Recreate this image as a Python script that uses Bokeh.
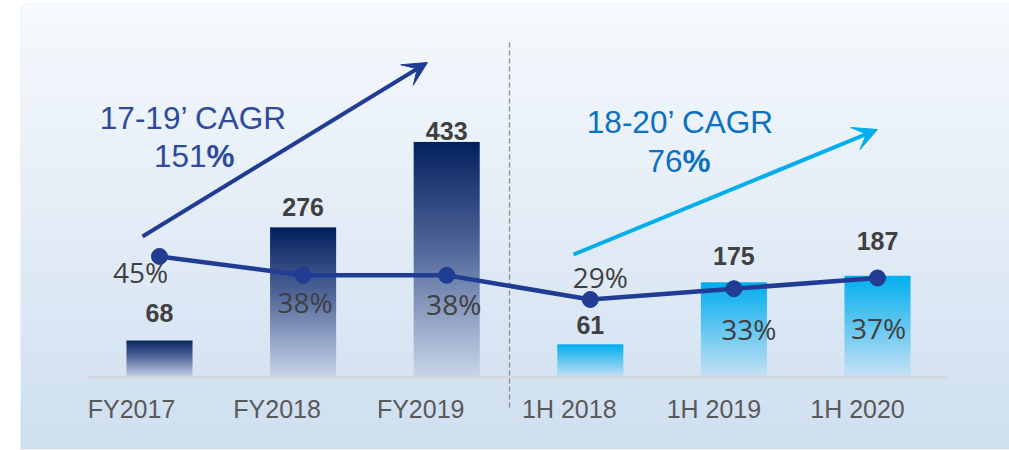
import numpy as np
from bokeh.plotting import figure
from bokeh.models import Range1d, Arrow, VeeHead
from bokeh.core.properties import value
from bokeh.embed import file_html
from bokeh.resources import INLINE

# ---------------- data ----------------
categories = ["FY2017", "FY2018", "FY2019", "1H 2018", "1H 2019", "1H 2020"]
revenue = [68, 276, 433, 61, 175, 187]
margin_pct = [45, 38, 38, 29, 33, 37]
revenue_labels = ["68", "276", "433", "61", "175", "187"]
margin_labels = ["45%", "38%", "38%", "29%", "33%", "37%"]
period_group = ["FY", "FY", "FY", "1H", "1H", "1H"]
cagr_fy_title = "17-19\u2019 CAGR"
cagr_fy_num = "151"
cagr_1h_title = "18-20\u2019 CAGR"
cagr_1h_num = "76"

# ---------------- layout (pixel geometry of the page) ----------------
X0, XS = 159.0, 143.6            # first category centre (px), px per category
YB, YS, PS = 377.0, 0.544, 2.69  # baseline (px), px per unit, px per percent
F_L, F_R, F_T, F_B = 20, 1009, 3, 449  # frame edges on page

def to_x(px):
    return (px - X0) / XS

def to_y(py):
    return (YB - py) / YS

xs = list(range(len(categories)))

p = figure(width=1009, height=450,
           x_range=Range1d(to_x(F_L), to_x(F_R)),
           y_range=Range1d(to_y(F_B), to_y(F_T)),
           x_axis_type=None, y_axis_type=None,
           output_backend="svg", toolbar_location=None,
           min_border_left=F_L, min_border_right=0,
           min_border_top=F_T, min_border_bottom=450 - F_B)
p.extra_y_ranges = {"pct": Range1d(-(F_B - YB) / PS, (YB - F_T) / PS)}
p.outline_line_color = None
p.border_fill_color = "white"
p.background_fill_color = "#E3ECF6"


def hex2rgb(h):
    h = h.lstrip("#")
    return np.array([int(h[i:i + 2], 16) for i in (0, 2, 4)], dtype=float)


def gradient_image(stops, n=256):
    """vertical gradient image, row 0 = bottom. stops: list of (t, hex)."""
    ts = np.array([s[0] for s in stops])
    cols = np.array([hex2rgb(s[1]) for s in stops])
    t = np.linspace(0, 1, n)
    rgb = np.stack([np.interp(t, ts, cols[:, c]) for c in range(3)], axis=1)
    img = np.empty((n, 1), dtype=np.uint32)
    view = img.view(dtype=np.uint8).reshape((n, 1, 4))
    view[:, 0, 0] = rgb[:, 0].round()
    view[:, 0, 1] = rgb[:, 1].round()
    view[:, 0, 2] = rgb[:, 2].round()
    view[:, 0, 3] = 255
    return img


# ---------------- background gradient ----------------
bg = gradient_image([(0, "#CEDFF0"), (0.5, "#E3ECF6"), (1, "#F6F9FD")])
yb0, yb1 = to_y(F_B), to_y(F_T)
xb0, xb1 = to_x(F_L), to_x(F_R)
p.image_rgba(image=[bg], x=xb0, y=yb0, dw=xb1 - xb0, dh=yb1 - yb0)

# ---------------- gradient bars ----------------
BAR_W = 0.46
grad = {"FY": [(0, "#C9D6E9"), (0.55, "#51679A"), (1, "#03205E")],
        "1H": [(0, "#C8E1F4"), (1, "#00ADEE")]}
imgs = [gradient_image(grad[g]) for g in period_group]
p.image_rgba(image=imgs, x=[x - BAR_W / 2 for x in xs], y=[0] * len(xs),
             dw=[BAR_W] * len(xs), dh=revenue)

# baseline
p.segment(x0=[-0.5], y0=[0], x1=[len(categories) - 0.5], y1=[0],
          line_color="#D6D9DE", line_width=2.5)

# separator
p.segment(x0=[to_x(509)], y0=[to_y(42)], x1=[to_x(509)], y1=[to_y(410)],
          line_color="#8A8A8A", line_width=1.3, line_dash="5 3")

# ---------------- margin line ----------------
p.line(xs, margin_pct, y_range_name="pct", line_color="#213C93", line_width=4.5)
p.scatter(xs, margin_pct, y_range_name="pct", size=16,
          fill_color="#213C93", line_color="#213C93")

# ---------------- labels ----------------
val_dy = [-28, -20, -11, -19, -26, -35]
p.text(x=xs, y=revenue, text=revenue_labels, x_offset=0, y_offset=val_dy,
       text_align="center", text_baseline="middle",
       text_font=value("Liberation Sans"), text_font_style="bold",
       text_font_size="25px", text_color="#404040")

pct_dx = [-19, 2, 7, 10, 15, 1]
pct_dy = [16, 27, 29, -22, 40, 50]
p.text(x=xs, y=margin_pct, text=margin_labels, y_range_name="pct",
       x_offset=pct_dx, y_offset=pct_dy,
       text_align="center", text_baseline="middle",
       text_font=value("Open Sans"), text_font_size="28px", text_color="#404040")

tick_dx = [-28, -26, -26, -21, -20, -20]
p.text(x=xs, y=[0] * len(xs), text=categories, x_offset=tick_dx, y_offset=31,
       text_align="center", text_baseline="middle",
       text_font=value("Liberation Sans"), text_font_size="25px", text_color="#595959")

# ---------------- CAGR arrows and texts ----------------
FY_BLUE = "#213C93"
CY_BLUE = "#00AEEF"
p.add_layout(Arrow(x_start=to_x(142), y_start=to_y(236), x_end=to_x(427), y_end=to_y(62),
                   line_color=FY_BLUE, line_width=4,
                   end=VeeHead(size=24, fill_color=FY_BLUE, line_color=FY_BLUE)))
p.add_layout(Arrow(x_start=to_x(573), y_start=to_y(254), x_end=to_x(877), y_end=to_y(129),
                   line_color=CY_BLUE, line_width=4,
                   end=VeeHead(size=24, fill_color=CY_BLUE, line_color=CY_BLUE)))

FY_TXT = "#2D4A9C"
CY_TXT = "#0A70C0"
FS = "31.5px"
p.text(x=[to_x(193)], y=[to_y(117)], text=[cagr_fy_title], text_align="center",
       text_baseline="middle", text_font=value("Liberation Sans"),
       text_font_size=FS, text_color=FY_TXT)
p.text(x=[to_x(206)], y=[to_y(155)], text=[cagr_fy_num], text_align="right",
       text_baseline="middle", text_font=value("Liberation Sans"),
       text_font_size=FS, text_color=FY_TXT)
p.text(x=[to_x(206)], y=[to_y(155)], text=["%"], text_align="left",
       text_baseline="middle", text_font=value("Liberation Sans"), text_font_style="bold",
       text_font_size=FS, text_color=FY_TXT)

p.text(x=[to_x(680)], y=[to_y(121)], text=[cagr_1h_title], text_align="center",
       text_baseline="middle", text_font=value("Liberation Sans"),
       text_font_size=FS, text_color=CY_TXT)
p.text(x=[to_x(682)], y=[to_y(160)], text=[cagr_1h_num], text_align="right",
       text_baseline="middle", text_font=value("Liberation Sans"),
       text_font_size=FS, text_color=CY_TXT)
p.text(x=[to_x(682)], y=[to_y(160)], text=["%"], text_align="left",
       text_baseline="middle", text_font=value("Liberation Sans"), text_font_style="bold",
       text_font_size=FS, text_color=CY_TXT)

open("out.html", "w").write(file_html(p, INLINE))
